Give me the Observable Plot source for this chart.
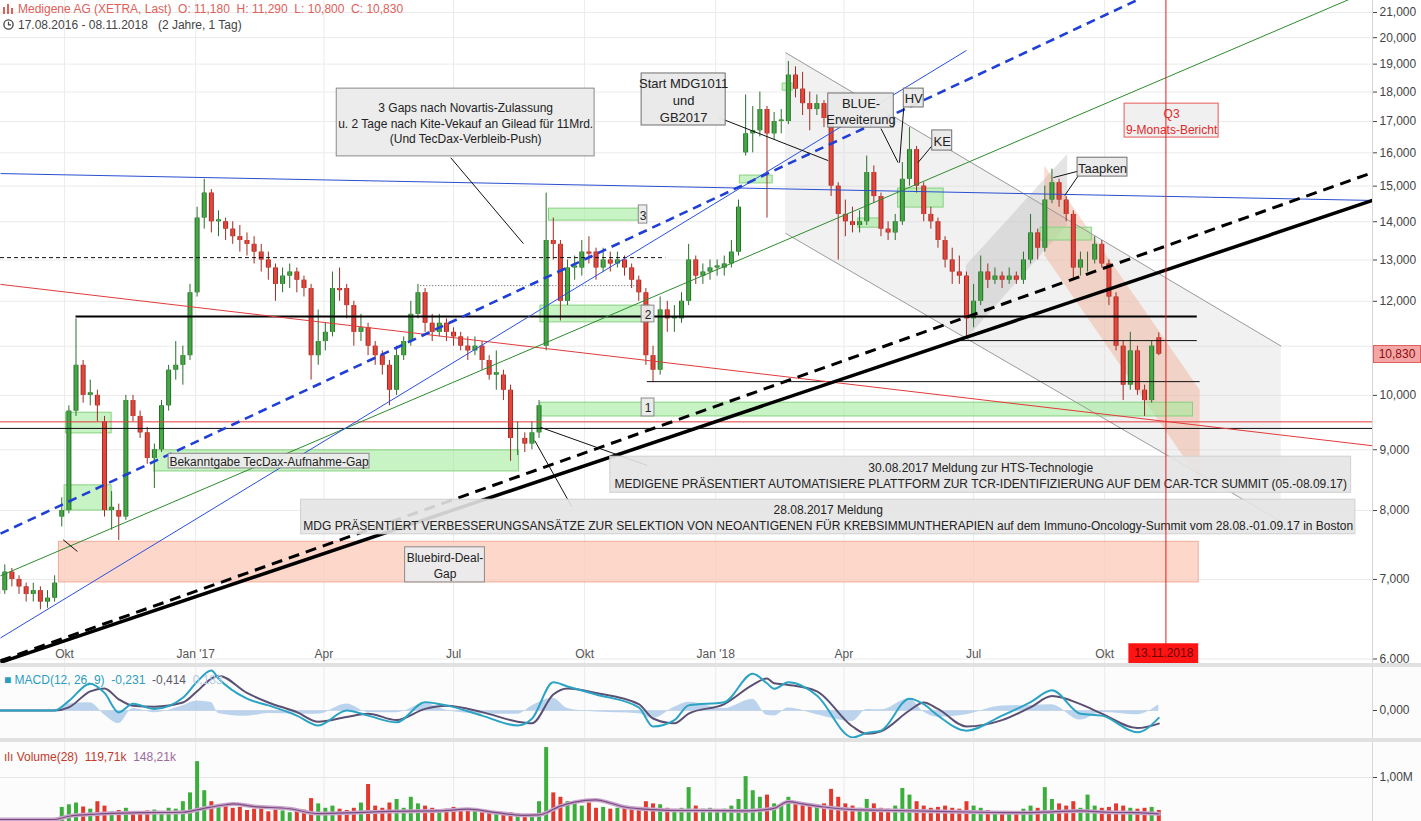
<!DOCTYPE html>
<html><head><meta charset="utf-8">
<script src="https://cdn.jsdelivr.net/npm/d3@7"></script>
<script src="https://cdn.jsdelivr.net/npm/@observablehq/plot@0.6"></script>
<style>
body{margin:0;background:#fff;font-family:"Liberation Sans",Arial,sans-serif;}
#wrap{position:relative;width:1421px;height:821px;overflow:hidden;background:#fff}
.panel{position:absolute;left:0}
.band{position:absolute;left:0;width:1421px;height:4px;background:#e1e1e1}
#hdr{position:absolute;left:3px;top:1px;font-size:12px;line-height:16px;}
#hdr svg{vertical-align:-1px;margin-right:4px}
.lbl{position:absolute;left:4px;font-family:"Liberation Sans Narrow","Liberation Sans",Arial,sans-serif;font-size:12px;white-space:pre}
#tag{position:absolute;left:1373px;width:48px;height:18px;background:#f4a6a6;border:1px solid #e06060;box-sizing:border-box;color:#8a0d0d;font-size:12px;line-height:16px;text-align:center}
</style></head><body>
<div id="wrap">
 <div id="main" class="panel" style="top:0"></div>
 <div class="band" style="top:663px"></div>
 <div id="macd" class="panel" style="top:667px"></div>
 <div class="band" style="top:738px"></div>
 <div id="vol" class="panel" style="top:742px"></div>
 <div id="hdr">
  <div style="color:#e0605a"><svg width="11" height="10"><rect x="0" y="3" width="2" height="7" fill="#e0605a"/><rect x="4" y="0" width="2" height="10" fill="#e0605a"/><rect x="8" y="4" width="2" height="6" fill="#e0605a"/></svg>Medigene AG (XETRA, Last)&nbsp; O: 11,180&nbsp; H: 11,290&nbsp; L: 10,800&nbsp; C: 10,830</div>
  <div style="color:#444"><svg width="11" height="11"><circle cx="5.5" cy="5.5" r="4.6" fill="none" stroke="#444" stroke-width="1.3"/><path d="M5.5 2.8V5.8H8" fill="none" stroke="#444" stroke-width="1.2"/></svg>17.08.2016 - 08.11.2018&nbsp;&nbsp; (2 Jahre, 1 Tag)</div>
 </div>
 <div class="lbl" style="top:673px"><span style="color:#2b9cc0">■ MACD(12, 26, 9)  -0,231</span>  <span style="color:#5a5a6a">-0,414</span>  <span style="color:#b4cce6">0,183</span></div>
 <div class="lbl" style="top:750px"><span style="color:#c0392b">ılı Volume(28)  119,71k</span>  <span style="color:#9a6a9a">148,21k</span></div>
 <div id="tag"></div>
</div>
<script>
// ---------- DATA ----------
const candleStart = "2016-08-15";   // first candle, each candle = 5 calendar days
const O = [6.80,6.85,7.10,7.00,6.90,6.80,6.85,6.70,6.75,7.90,
 8.00,9.70,10.60,10.00,10.00,9.50,8.00,8.00,7.90,9.90,
 9.60,9.30,8.85,9.00,9.80,10.50,10.60,10.80,12.20,14.10,
 14.80,14.00,14.00,13.80,13.60,13.50,13.40,13.20,13.00,12.80,
 12.40,12.60,12.70,12.50,12.30,10.80,11.10,11.30,12.30,12.30,
 11.90,11.30,11.40,11.00,10.80,10.60,10.10,10.80,11.10,11.70,
 12.20,11.50,11.30,11.50,11.30,11.20,11.00,10.90,11.00,10.70,
 10.40,10.40,10.10,9.20,9.20,9.10,9.30,11.00,13.50,13.40,
 12.00,12.80,12.80,13.20,13.20,12.80,13.00,12.90,13.00,12.80,
 12.50,12.20,10.80,10.50,11.80,11.60,11.60,12.00,13.00,12.60,
 12.70,12.80,12.80,12.90,13.20,16.00,16.60,16.70,17.40,16.60,
 17.00,17.00,18.60,18.10,17.60,17.40,17.60,17.10,15.00,14.20,
 14.00,13.90,14.00,15.40,14.70,13.80,13.70,14.00,15.20,16.10,
 15.00,14.20,14.00,13.50,13.00,12.70,12.60,11.60,12.00,12.70,
 12.50,12.60,12.50,12.60,12.50,13.00,13.70,13.30,14.60,15.10,
 14.60,14.20,12.80,13.00,13.00,13.40,12.90,12.10,11.00,10.20,
 10.90,10.10,9.90,11.18];
const H = [6.95,7.20,7.15,7.05,6.95,6.95,6.90,6.85,7.05,8.20,
 9.80,11.60,10.70,10.30,10.10,9.60,8.30,8.10,10.00,10.00,
 9.70,9.40,9.10,9.90,10.60,11.10,11.00,12.40,14.40,15.20,
 14.90,14.30,14.10,14.00,13.90,13.70,13.60,13.40,13.20,12.90,
 12.80,12.90,12.80,12.60,12.40,11.80,11.50,12.70,12.80,12.40,
 12.00,11.70,11.50,11.10,10.90,10.70,11.00,11.20,12.00,12.40,
 12.30,11.70,11.70,11.60,11.40,11.30,11.20,11.20,11.10,10.80,
 10.90,10.50,10.20,9.50,9.30,9.50,9.90,14.80,14.10,13.50,
 13.00,13.10,13.50,13.60,13.30,13.30,13.20,13.20,13.10,12.90,
 12.60,12.30,11.00,12.10,12.00,11.90,12.20,13.40,13.10,12.90,
 13.00,13.00,13.10,13.50,14.60,17.90,17.50,18.00,17.50,17.30,
 17.40,19.10,18.90,18.70,18.00,17.90,17.70,17.20,15.10,14.60,
 14.40,14.30,15.90,15.60,14.80,14.00,14.20,15.70,16.80,16.20,
 15.10,14.40,14.10,13.60,13.30,13.10,12.70,12.40,13.10,12.90,
 12.80,12.70,12.80,12.70,13.20,14.20,13.80,15.00,15.50,15.20,
 14.70,14.30,13.20,13.20,13.60,13.50,13.00,12.20,11.10,11.30,
 11.00,10.20,11.10,11.29];
const L = [6.70,6.80,6.90,6.80,6.70,6.70,6.60,6.62,6.70,7.75,
 7.95,9.60,9.85,9.80,9.50,7.90,7.70,7.55,7.85,9.50,
 9.20,8.75,8.35,8.95,9.70,10.30,10.20,10.70,12.10,13.80,
 13.70,13.60,13.50,13.40,13.20,13.10,12.90,12.70,12.50,12.00,
 12.20,12.30,12.20,12.10,10.30,10.60,10.90,11.20,12.00,11.60,
 11.00,11.10,10.80,10.60,10.40,9.80,10.00,10.70,11.00,11.60,
 11.30,11.10,11.20,11.10,11.00,10.90,10.70,10.80,10.50,10.30,
 10.10,9.90,8.80,8.90,8.95,9.00,9.20,10.90,13.00,11.55,
 11.90,12.50,12.60,12.90,12.50,12.70,12.70,12.80,12.60,12.30,
 12.00,10.60,10.25,10.40,11.30,11.30,11.50,11.90,12.40,12.40,
 12.50,12.60,12.60,12.80,13.10,15.90,16.00,16.50,14.10,16.40,
 16.60,16.90,17.80,17.20,16.70,17.20,16.80,14.70,13.00,13.60,
 13.70,13.70,13.90,14.50,13.60,13.50,13.50,13.90,15.00,14.80,
 14.00,13.80,13.30,12.80,12.40,12.40,11.15,11.40,11.90,12.30,
 12.40,12.30,12.40,12.40,12.40,12.90,13.00,13.20,14.50,14.40,
 14.00,12.50,12.60,12.70,12.90,12.80,11.90,10.90,9.90,10.10,
 10.00,9.60,9.85,10.80];
const C = [6.85,7.10,7.00,6.90,6.80,6.85,6.70,6.75,6.95,8.00,
 9.70,10.60,10.00,10.05,9.80,8.00,8.05,7.90,9.90,9.60,
 9.30,8.85,9.00,9.80,10.50,10.60,10.80,12.20,14.10,14.80,
 14.00,14.05,13.80,13.60,13.50,13.40,13.20,13.00,12.80,12.40,
 12.60,12.70,12.50,12.30,10.80,11.10,11.30,12.30,12.25,11.90,
 11.30,11.40,11.00,10.80,10.60,10.10,10.80,11.10,11.70,12.20,
 11.50,11.30,11.50,11.30,11.20,11.00,10.90,11.00,10.70,10.40,
 10.45,10.10,9.20,9.20,9.10,9.30,9.80,13.50,13.40,12.00,
 12.80,12.85,13.20,13.15,12.80,13.00,12.90,13.00,12.80,12.50,
 12.20,10.80,10.50,11.80,11.60,11.65,12.00,13.00,12.60,12.70,
 12.80,12.85,12.90,13.20,14.40,16.60,16.70,17.40,16.60,17.00,
 17.05,18.60,18.10,17.60,17.40,17.60,17.10,15.00,14.20,14.00,
 13.90,14.00,15.40,14.70,13.80,13.70,14.00,15.20,16.10,15.00,
 14.20,14.00,13.50,13.00,12.70,12.60,11.60,12.00,12.70,12.50,
 12.60,12.50,12.60,12.50,13.00,13.70,13.30,14.60,15.10,14.60,
 14.20,12.80,13.00,13.00,13.40,12.90,12.10,11.00,10.20,10.90,
 10.10,9.90,11.00,10.83];
const VOL = [40,60,45,50,35,40,55,45,70,320,
 380,420,330,280,450,350,220,250,300,200,
 180,240,260,210,300,280,450,650,1360,700,
 450,350,400,300,320,250,280,300,220,260,
 240,200,230,260,520,400,300,350,280,250,
 300,420,840,350,300,420,500,300,550,400,
 350,300,250,280,320,260,230,250,200,180,
 220,150,200,170,140,160,450,1680,650,550,
 450,400,350,420,300,320,280,300,350,280,
 300,450,400,380,300,250,300,770,350,280,
 300,250,280,350,500,1020,700,550,600,400,
 350,550,450,400,350,380,400,730,550,400,
 350,300,500,400,300,280,350,750,600,450,
 350,300,320,350,300,280,450,350,300,250,
 220,200,220,200,280,350,300,770,500,400,
 350,450,300,600,350,300,320,400,350,300,
 280,300,320,250];
// volume moving average (28), read at candle indices, in thousands
const vmaIdx = [0,8,10,14,20,26,29,32,33,36,41,45,50,55,62,66,70,74,76,79,81,84,86,88,92,96,100,105,109,111,113,116,120,126,132,138,144,148,152,156,160,163];
const vmaVal = [45,45,120,170,200,210,300,380,400,340,290,180,200,230,240,280,200,140,150,350,440,490,420,330,270,250,250,240,300,450,400,330,270,250,230,210,200,220,240,210,200,175];
// MACD(12,26,9) read at candle indices
const macdIdx = [0,8,10,13,15,17,19,22,26,28,30,31,35,38,42,45,49,52,56,60,63,68,73,75,78,80,84,90,92,95,97,102,106,108,109,111,115,120,122,124,128,130,132,136,141,145,148,152,155,160,163];
const macdVal = [0,0,0.30,0.84,0.55,-0.06,0.21,0.05,0.40,0.90,1.25,1.00,0.37,0.16,-0.16,-0.47,0.00,-0.16,-0.37,0.26,0.16,-0.16,-0.47,-0.26,0.88,0.75,0.50,0.10,-0.50,-0.30,0.16,0.26,1.15,0.85,0.68,0.88,0.47,-0.84,-0.70,-0.63,0.37,0.20,-0.16,-0.63,-0.16,0.26,0.63,-0.10,-0.16,-0.68,-0.23];
const sigVal = [0,0,0.10,0.60,0.69,0.35,0.15,0.12,0.25,0.60,1.00,1.09,0.55,0.25,-0.05,-0.35,-0.20,-0.10,-0.30,0.05,0.15,-0.05,-0.35,-0.40,0.50,0.69,0.55,0.20,-0.25,-0.40,-0.10,0.20,0.80,1.00,0.85,0.80,0.60,-0.50,-0.73,-0.65,0.00,0.25,0.05,-0.50,-0.30,0.10,0.45,0.20,-0.10,-0.55,-0.41];

// axes
const yTicks = [6,7,8,9,10,11,12,13,14,15,16,17,18,19,20,21];
const qTicks = ["2016-10-01","2017-01-01","2017-04-01","2017-07-01","2017-10-01","2018-01-01","2018-04-01","2018-07-01","2018-10-01"];
const qLabels = ["Okt","Jan '17","Apr","Jul","Okt","Jan '18","Apr","Jul","Okt"];
const xStart = "2016-08-17", xEnd = "2019-04-07";

// horizontal levels
const levelThick = [{y:11.65, x1:"2016-10-09", x2:"2018-12-05"}];
const levelThin = [{y:11.12, x1:"2018-06-22", x2:"2018-12-05"},{y:10.27, x1:"2017-11-14", x2:"2018-12-07"},{y:9.38, x1:xStart, x2:xEnd}];
const levelRed = [{y:9.50, x1:xStart, x2:xEnd}];
const levelDashed = [{y:13.06, x1:xStart, x2:"2017-11-27"}];
const levelDotted = [{y:12.37, x1:"2017-06-08", x2:"2017-11-09"}];
// trend lines
const trendBlueFlat = [{x1:xStart,y1:15.37,x2:xEnd,y2:14.59}];
const trendRed = [{x1:xStart,y1:12.40,x2:xEnd,y2:9.07}];
const trendGreen = [{x1:xStart,y1:7.05,x2:xEnd,y2:21.96}];
const trendBlue = [{x1:xStart,y1:6.25,x2:"2018-06-26",y2:19.51}];
const trendBlueDashed = [{x1:xStart,y1:7.65,x2:"2018-10-23",y2:21.49}];
const trendBlack = [{x1:xStart,y1:5.96,x2:xEnd,y2:14.59}];
const trendBlackDashed = [{x1:xStart,y1:5.98,x2:xEnd,y2:15.40}];
const channelLines = [{x1:"2018-02-19",y1:19.43,x2:"2019-02-02",y2:11.00},{x1:"2018-02-19",y1:13.69,x2:"2019-02-02",y2:7.83}];
const grayChannel = [{date:"2018-02-19", lo:13.69, hi:19.43},{date:"2019-02-02", lo:7.83, hi:11.00}];
const riseChannel = [{date:"2018-06-26", lo:11.15, hi:12.86},{date:"2018-09-05", lo:13.90, hi:15.95}];
const pinkChannel = [{date:"2018-08-20", lo:13.11, hi:15.59},{date:"2018-12-07", lo:8.48, hi:10.10}];
// gaps / zones
const bluebirdGap = [{x1:"2016-09-27", x2:"2018-12-06", y1:6.96, y2:7.53}];
const greenGaps = [
 {x1:"2016-10-02",x2:"2016-11-03",y1:9.29,y2:9.67},
 {x1:"2016-10-01",x2:"2016-11-03",y1:8.00,y2:8.40},
 {x1:"2016-12-03",x2:"2017-08-16",y1:8.63,y2:8.99},
 {x1:"2017-08-31",x2:"2018-12-02",y1:9.60,y2:9.86},
 {x1:"2017-08-31",x2:"2017-11-16",y1:11.52,y2:11.90},
 {x1:"2017-09-06",x2:"2017-11-09",y1:14.03,y2:14.36},
 {x1:"2018-01-18",x2:"2018-02-10",y1:15.08,y2:15.31},
 {x1:"2018-02-17",x2:"2018-02-24",y1:18.05,y2:18.30},
 {x1:"2018-04-11",x2:"2018-04-28",y1:13.84,y2:14.09},
 {x1:"2018-05-09",x2:"2018-06-10",y1:14.39,y2:14.93},
 {x1:"2018-08-17",x2:"2018-09-22",y1:13.50,y2:13.84}];
// annotation boxes
const notes = [
 {x1:"2017-04-10",x2:"2017-10-08",y1:15.89,y2:18.12,text:"3 Gaps nach Novartis-Zulassung\nu. 2 Tage nach Kite-Vekauf an Gilead für 11Mrd.\n(Und TecDax-Verbleib-Push)"},
 {x1:"2016-12-13",x2:"2017-05-03",y1:8.68,y2:8.93,text:"Bekanntgabe TecDax-Aufnahme-Gap"},
 {x1:"2017-05-28",x2:"2017-07-23",y1:6.96,y2:7.45,text:"Bluebird-Deal-\nGap"},
 {x1:"2017-11-08",x2:"2017-11-14",y1:13.95,y2:14.45,text:"3"},
 {x1:"2017-11-10",x2:"2017-11-19",y1:11.52,y2:11.90,text:"2"},
 {x1:"2017-11-10",x2:"2017-11-19",y1:9.60,y2:9.94,text:"1"}];
const notesLarge = [
 {x1:"2017-11-10",x2:"2018-01-08",y1:16.87,y2:18.66,text:"Start MDG1011\nund\nGB2017"},
 {x1:"2018-03-21",x2:"2018-05-06",y1:16.80,y2:17.95,text:"BLUE-\nErweiterung"},
 {x1:"2018-05-13",x2:"2018-05-27",y1:17.47,y2:18.12,text:"HV"},
 {x1:"2018-06-02",x2:"2018-06-16",y1:16.07,y2:16.71,text:"KE"},
 {x1:"2018-09-12",x2:"2018-10-17",y1:15.28,y2:15.85,text:"Taapken"}];
const newsNotes = [
 {x1:"2017-10-19",x2:"2019-03-23",y1:8.28,y2:8.88,text:"30.08.2017 Meldung zur HTS-Technologie\nMEDIGENE PRÄSENTIERT AUTOMATISIERE PLATTFORM ZUR TCR-IDENTIFIZIERUNG AUF DEM CAR-TCR SUMMIT (05.-08.09.17)"},
 {x1:"2017-03-16",x2:"2019-03-26",y1:7.64,y2:8.17,text:"28.08.2017 Meldung\nMDG PRÄSENTIERT VERBESSERUNGSANSÄTZE ZUR SELEKTION VON NEOANTIGENEN FÜR KREBSIMMUNTHERAPIEN auf dem Immuno-Oncology-Summit vom 28.08.-01.09.17 in Boston"}];
const q3Note = [{x1:"2018-10-15",x2:"2018-12-20",y1:16.48,y2:17.60,text:"Q3\n9-Monats-Bericht"}];
const connectors = [
 {x1:"2017-06-29",y1:15.85,x2:"2017-08-19",y2:13.42},
 {x1:"2018-01-03",y1:17.13,x2:"2018-03-21",y2:15.76},
 {x1:"2018-04-27",y1:16.77,x2:"2018-05-09",y2:15.70},
 {x1:"2018-05-13",y1:17.47,x2:"2018-05-10",y2:15.70},
 {x1:"2018-06-02",y1:16.23,x2:"2018-05-23",y2:15.70},
 {x1:"2018-09-14",y1:15.46,x2:"2018-08-26",y2:15.25},
 {x1:"2018-09-14",y1:15.40,x2:"2018-09-03",y2:14.73},
 {x1:"2017-08-31",y1:9.40,x2:"2017-11-14",y2:8.73},
 {x1:"2017-08-27",y1:9.16,x2:"2017-09-22",y2:8.06},
 {x1:"2016-09-30",y1:7.56,x2:"2016-10-10",y2:7.39}];
const reportDate = "2018-11-13";
const reportLabel = [{x1:"2018-10-18",x2:"2018-12-06",y1:5.948,y2:6.18,text:"13.11.2018"}];
const lastPrice = 10.83;

// ---------- BUILD ----------
const D = s => new Date(s);
const mid = d => new Date((D(d.x1).getTime()+D(d.x2).getTime())/2);
const gm = d => Math.sqrt(d.y1*d.y2);
const start = D(candleStart);
const candles = O.map((o,i)=>({date:d3.utcDay.offset(start,i*5),open:o,high:H[i],low:L[i],close:C[i],vol:VOL[i],up:C[i]>=o}));
const dateAt = i => d3.utcDay.offset(start,i*5);
const macd = macdIdx.map((k,i)=>({date:dateAt(k),m:macdVal[i],s:sigVal[i]}));
const vma = vmaIdx.map((k,i)=>({date:dateAt(k),v:vmaVal[i]}));
const X = {type:"utc", domain:[D(xStart),D(xEnd)], axis:null};
const font = "Liberation Sans, Arial, sans-serif";
const narrow = "Liberation Sans Narrow, Liberation Sans, Arial, sans-serif";
const fmt3 = d => d.toFixed(3).replace(".",",");
const GREEN="#44a845", GREEN_D="#2b6e2c", RED="#e5463c", RED_D="#9c2c24";
const rectOpts = {x1:d=>D(d.x1),x2:d=>D(d.x2),y1:"y1",y2:"y2"};
const linkOpts = {x1:d=>D(d.x1),x2:d=>D(d.x2),y1:"y1",y2:"y2"};
const ruleOpts = {y:"y",x1:d=>D(d.x1),x2:d=>D(d.x2)};

const main = Plot.plot({
 width:1421,height:663,marginLeft:0,marginRight:49,marginTop:0,marginBottom:0,
 style:{background:"#fff",fontFamily:font,fontSize:"12px",overflow:"visible"},
 x:X, y:{type:"log",domain:[5.948,21.494],axis:null},
 marks:[
  Plot.ruleY(yTicks,{stroke:"#ebebeb"}),
  Plot.ruleX(qTicks.map(D),{stroke:"#ebebeb"}),
  Plot.areaY(grayChannel,{x:d=>D(d.date),y1:"lo",y2:"hi",fill:"#d0d0d0",fillOpacity:0.3}),
  Plot.areaY(riseChannel,{x:d=>D(d.date),y1:"lo",y2:"hi",fill:"#bcbcbc",fillOpacity:0.4}),
  Plot.areaY(pinkChannel,{x:d=>D(d.date),y1:"lo",y2:"hi",fill:"#f2a488",fillOpacity:0.4}),
  Plot.rect(bluebirdGap,{...rectOpts,fill:"#fbcab8",fillOpacity:0.75,stroke:"#f1ab98"}),
  Plot.rect(greenGaps,{...rectOpts,fill:"#a3eb9c",fillOpacity:0.6,stroke:"#86d17f"}),
  Plot.link(channelLines,{...linkOpts,stroke:"#9a9a9a",strokeWidth:1}),
  // candles
  Plot.ruleX(candles,{x:"date",y1:"low",y2:"high",stroke:d=>d.up?GREEN_D:RED_D,strokeWidth:1}),
  Plot.ruleX(candles,{x:"date",y1:"open",y2:"close",stroke:d=>d.up?GREEN_D:RED_D,strokeWidth:5}),
  Plot.ruleX(candles,{x:"date",y1:"open",y2:"close",stroke:d=>d.up?GREEN:RED,strokeWidth:3}),
  // levels
  Plot.ruleY(levelRed,{...ruleOpts,stroke:"#e23b3b",strokeWidth:1}),
  Plot.ruleY(levelThin,{...ruleOpts,stroke:"#111",strokeWidth:1}),
  Plot.ruleY(levelThick,{...ruleOpts,stroke:"#000",strokeWidth:2}),
  Plot.ruleY(levelDashed,{...ruleOpts,stroke:"#111",strokeWidth:1,strokeDasharray:"4,3"}),
  Plot.ruleY(levelDotted,{...ruleOpts,stroke:"#555",strokeWidth:1,strokeDasharray:"1,2"}),
  // trends
  Plot.link(trendBlueFlat,{...linkOpts,stroke:"#2a4fd0",strokeWidth:1}),
  Plot.link(trendRed,{...linkOpts,stroke:"#e23b3b",strokeWidth:1}),
  Plot.link(trendGreen,{...linkOpts,stroke:"#2e8b2e",strokeWidth:1,clip:true}),
  Plot.link(trendBlue,{...linkOpts,stroke:"#2a4fe0",strokeWidth:1}),
  Plot.link(trendBlueDashed,{...linkOpts,stroke:"#1f3fd6",strokeWidth:2.6,strokeDasharray:"9,6",clip:true}),
  Plot.link(trendBlack,{...linkOpts,stroke:"#000",strokeWidth:3.5}),
  Plot.link(trendBlackDashed,{...linkOpts,stroke:"#000",strokeWidth:3,strokeDasharray:"11,7"}),
  Plot.link(connectors,{...linkOpts,stroke:"#111",strokeWidth:1}),
  // boxes
  Plot.rect(notes,{...rectOpts,fill:"#ebebeb",fillOpacity:0.95,stroke:"#8a8a8a"}),
  Plot.text(notes,{x:mid,y:gm,text:"text",fontSize:12,fill:"#222",lineHeight:1.3,fontFamily:font}),
  Plot.rect(notesLarge,{...rectOpts,fill:"#e9e9e9",fillOpacity:0.95,stroke:"#6f6f6f"}),
  Plot.text(notesLarge,{x:mid,y:gm,text:"text",fontSize:13,fill:"#222",lineHeight:1.3,fontFamily:font}),
  Plot.rect(newsNotes,{...rectOpts,fill:"#e4e4e4",fillOpacity:0.9,stroke:"#d0d0d0"}),
  Plot.text(newsNotes,{x:mid,y:gm,text:"text",fontSize:12,fill:"#222",lineHeight:1.35,fontFamily:narrow}),
  Plot.rect(q3Note,{...rectOpts,fill:"#eeeeee",fillOpacity:0.9,stroke:"#e65a5a"}),
  Plot.text(q3Note,{x:mid,y:gm,text:"text",fontSize:12,fill:"#e02828",lineHeight:1.35,fontFamily:font}),
  Plot.ruleX([D(reportDate)],{stroke:"#e41c1c",strokeWidth:1}),
  Plot.rect(reportLabel,{...rectOpts,fill:"#ff1414"}),
  Plot.text(reportLabel,{x:mid,y:gm,text:"text",fontSize:12,fill:"#6e0000",fontFamily:font}),
  // x labels
  Plot.text(qTicks,{x:D,text:(d,i)=>qLabels[i],frameAnchor:"bottom",lineAnchor:"bottom",dy:-6,fontSize:12,fill:"#555"}),
  // right axis (the 11,000 label sits under the last-price tag)
  Plot.ruleX([D(xEnd)],{stroke:"#d6d6d6"}),
  Plot.axisY(yTicks.filter(t=>t!==11),{anchor:"right",tickSize:4,tickPadding:3,tickFormat:fmt3,color:"#444",fontSize:12})
 ]
});
document.getElementById("main").append(main);

// last price tag, positioned with the plot's own y scale
{
 const ys = main.scale("y").apply(lastPrice);
 const tag = document.getElementById("tag");
 tag.style.top = (ys - 9) + "px";
 tag.textContent = fmt3(lastPrice);
}

const macdPlot = Plot.plot({
 width:1421,height:71,marginLeft:0,marginRight:49,marginTop:0,marginBottom:0,
 style:{background:"#fcfcfc",fontFamily:font,fontSize:"12px",overflow:"visible"},
 x:X, y:{domain:[-0.875,1.344],axis:null},
 marks:[
  Plot.ruleX(qTicks.map(D),{stroke:"#ebebeb"}),
  Plot.areaY(macd,{x:"date",y:d=>d.m-d.s,fill:"#9fc2e7",fillOpacity:0.7,curve:"monotone-x"}),
  Plot.ruleY([0],{stroke:"#c5d6ea",x1:D(xStart),x2:dateAt(163)}),
  Plot.line(macd,{x:"date",y:"s",stroke:"#5b5072",strokeWidth:2,curve:"monotone-x"}),
  Plot.line(macd,{x:"date",y:"m",stroke:"#2ba3c4",strokeWidth:2,curve:"monotone-x"}),
  Plot.ruleX([D(xEnd)],{stroke:"#d6d6d6"}),
  Plot.axisY([0],{anchor:"right",tickSize:4,tickPadding:3,tickFormat:fmt3,color:"#444",fontSize:12})
 ]
});
document.getElementById("macd").append(macdPlot);

const volPlot = Plot.plot({
 width:1421,height:79,marginLeft:0,marginRight:49,marginTop:0,marginBottom:0,
 style:{background:"#fcfcfc",fontFamily:font,fontSize:"12px",overflow:"visible"},
 x:X, y:{domain:[0,1795],axis:null},
 marks:[
  Plot.ruleX(qTicks.map(D),{stroke:"#ebebeb"}),
  Plot.ruleY([1000],{stroke:"#e6e6e6"}),
  Plot.ruleX(candles,{x:"date",y1:0,y2:"vol",stroke:d=>d.up?"#3cae3c":"#e3392c",strokeWidth:4}),
  Plot.line(vma,{x:"date",y:"v",stroke:"#c9a5cc",strokeWidth:4,curve:"monotone-x"}),
  Plot.line(vma,{x:"date",y:"v",stroke:"#7b4c80",strokeWidth:1.2,curve:"monotone-x"}),
  Plot.ruleX([D(xEnd)],{stroke:"#d6d6d6"}),
  Plot.axisY([1000],{anchor:"right",tickSize:4,tickPadding:3,tickFormat:()=>"1,00M",color:"#444",fontSize:12})
 ]
});
document.getElementById("vol").append(volPlot);
</script>
</body></html>
